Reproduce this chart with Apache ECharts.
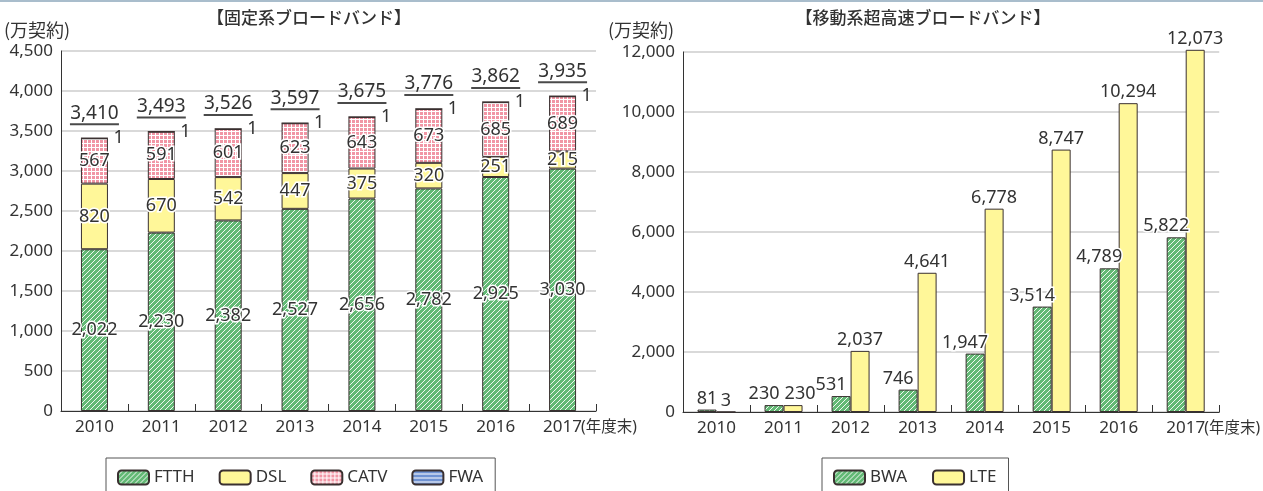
<!DOCTYPE html>
<html>
<head>
<meta charset="utf-8">
<script src="https://cdn.jsdelivr.net/npm/echarts@6/dist/echarts.min.js"></script>
<style>
  html, body { margin: 0; padding: 0; background: #fff; }
  #chart { width: 1263px; height: 491px; }
</style>
</head>
<body>
<div id="chart"></div>
<script>
// データ（万契約）
const years = ['2010', '2011', '2012', '2013', '2014', '2015', '2016', '2017'];
const ftth = [2022, 2230, 2382, 2527, 2656, 2782, 2925, 3030];
const dsl = [820, 670, 542, 447, 375, 320, 251, 215];
const catv = [567, 591, 601, 623, 643, 673, 685, 689];
const fwa = [1, 1, 1, 1, 1, 1, 1, 1];
const fixedTotal = [3410, 3493, 3526, 3597, 3675, 3776, 3862, 3935];
const bwa = [81, 230, 531, 746, 1947, 3514, 4789, 5822];
const lte = [3, 230, 2037, 4641, 6778, 8747, 10294, 12073];

const FONT = "'Noto Sans', 'Noto Sans CJK JP', sans-serif";
const TXT = '#333';

// パターン塗り
function hatchPattern() {
    const c = document.createElement('canvas');
    c.width = 5; c.height = 5;
    const g = c.getContext('2d');
    g.fillStyle = '#63b975';
    g.fillRect(0, 0, 5, 5);
    g.strokeStyle = 'rgba(255,255,255,0.9)';
    g.lineWidth = 1;
    g.beginPath();
    g.moveTo(-1, 6); g.lineTo(6, -1);
    g.moveTo(-1, 1); g.lineTo(1, -1);
    g.moveTo(4, 6); g.lineTo(6, 4);
    g.stroke();
    return c;
}
function gridPattern() {
    const c = document.createElement('canvas');
    c.width = 4; c.height = 4;
    const g = c.getContext('2d');
    g.fillStyle = '#ffffff';
    g.fillRect(0, 0, 4, 4);
    g.fillStyle = '#f196a5';
    g.fillRect(0, 0, 3, 3);
    return c;
}
function stripePattern() {
    const c = document.createElement('canvas');
    c.width = 4; c.height = 4;
    const g = c.getContext('2d');
    g.fillStyle = '#6f92d2';
    g.fillRect(0, 0, 4, 4);
    g.fillStyle = '#ffffff';
    g.fillRect(0, 3, 4, 1);
    return c;
}
const greenFill = { image: hatchPattern(), repeat: 'repeat' };
const pinkFill = { image: gridPattern(), repeat: 'repeat' };
const blueFill = { image: stripePattern(), repeat: 'repeat' };
const yellow = '#fff799';

const fmt = v => v.toLocaleString('en-US');

const insideLabel = {
    show: true,
    position: 'inside',
    fontFamily: FONT,
    fontSize: 18,
    color: TXT,
    textBorderColor: '#fff',
    textBorderWidth: 3,
    formatter: p => fmt(p.value)
};
const barBorder = { borderColor: '#3a3030', borderWidth: 1 };

function xAxisOf(gridIndex) {
    return {
        type: 'category',
        gridIndex: gridIndex,
        data: years,
        axisLine: { lineStyle: { color: '#333', width: 1 } },
        axisTick: { show: true, inside: true, length: 7, interval: 0, lineStyle: { color: '#333' } },
        axisLabel: {
            interval: 0,
            fontFamily: FONT, fontSize: 17, color: TXT, margin: 8,
            // 最後の年だけ「(年度末)」を右に付ける（年は中央のまま）
            formatter: (v, i) => i === years.length - 1 ? '{p|}{y|' + v + '}{n|(年度末)}' : v,
            rich: {
                p: { width: 54 },
                y: { fontFamily: FONT, fontSize: 17, color: TXT },
                n: { width: 54, fontFamily: FONT, fontSize: 15.5, color: TXT, align: 'left' }
            }
        }
    };
}
function yAxisOf(gridIndex, max, interval) {
    return {
        type: 'value',
        gridIndex: gridIndex,
        min: 0,
        max: max,
        interval: interval,
        axisLine: { show: true, lineStyle: { color: '#333' } },
        axisTick: { show: false },
        splitLine: { lineStyle: { color: '#cccccc', width: 1.5 } },
        axisLabel: { fontFamily: FONT, fontSize: 17, color: TXT, margin: 8, formatter: v => fmt(v) }
    };
}

const chart = echarts.init(document.getElementById('chart'));

const legendCommon = {
    orient: 'horizontal',
    itemWidth: 31, itemHeight: 14, itemGap: 24,
    padding: [11, 12, 20, 11],
    borderColor: '#555', borderWidth: 1,
    textStyle: { fontFamily: FONT, fontSize: 17, color: TXT },
    selectedMode: false
};

const option = {
    animation: false,
    backgroundColor: '#fff',
    textStyle: { fontFamily: FONT },
    grid: [
        { left: 61, right: 667, top: 51, height: 360 },
        { left: 683, right: 43, top: 52, height: 360 }
    ],
    xAxis: [xAxisOf(0), xAxisOf(1)],
    yAxis: [yAxisOf(0, 4500, 500), yAxisOf(1, 12000, 2000)],
    legend: [
        Object.assign({ data: ['FTTH', 'DSL', 'CATV', 'FWA'], left: 106, top: 458 }, legendCommon),
        Object.assign({ data: ['BWA', 'LTE'], left: 822, top: 458 }, legendCommon, { itemGap: 25 })
    ],
    graphic: [
        { type: 'rect', left: 0, top: 0, shape: { width: 1263, height: 2 }, style: { fill: '#a9bdcc' } },
        { type: 'text', x: 309, y: 18, style: { text: '【固定系ブロードバンド】', font: "500 17px 'Noto Sans CJK JP'", fill: TXT, align: 'center', verticalAlign: 'middle' } },
        { type: 'text', x: 923, y: 18, style: { text: '【移動系超高速ブロードバンド】', font: "500 17px 'Noto Sans CJK JP'", fill: TXT, align: 'center', verticalAlign: 'middle' } },
        { type: 'text', x: 4, y: 30, style: { text: '(万契約)', font: "18px 'Noto Sans CJK JP'", fill: TXT, align: 'left', verticalAlign: 'middle' } },
        { type: 'text', x: 608, y: 30, style: { text: '(万契約)', font: "18px 'Noto Sans CJK JP'", fill: TXT, align: 'left', verticalAlign: 'middle' } }
    ],
    series: [
        {
            name: 'FTTH', type: 'bar', stack: 'fixed', xAxisIndex: 0, yAxisIndex: 0,
            barWidth: 27, barGap: '-100%',
            data: ftth,
            itemStyle: Object.assign({ color: greenFill }, barBorder),
            label: insideLabel
        },
        {
            name: 'DSL', type: 'bar', stack: 'fixed', xAxisIndex: 0, yAxisIndex: 0,
            barWidth: 27, barGap: '-100%',
            data: dsl,
            itemStyle: Object.assign({ color: yellow }, barBorder),
            label: insideLabel
        },
        {
            name: 'CATV', type: 'bar', stack: 'fixed', xAxisIndex: 0, yAxisIndex: 0,
            barWidth: 27, barGap: '-100%',
            data: catv,
            itemStyle: Object.assign({ color: pinkFill }, barBorder),
            label: insideLabel
        },
        {
            name: 'FWA', type: 'bar', stack: 'fixed', xAxisIndex: 0, yAxisIndex: 0,
            barWidth: 27, barGap: '-100%',
            data: fwa,
            itemStyle: Object.assign({ color: blueFill }, barBorder),
            label: {
                show: true, position: 'right', distance: 5,
                fontFamily: FONT, fontSize: 18, color: TXT,
                formatter: p => fmt(p.value)
            }
        },
        {
            // 合計（上の下線付き数値）
            name: '合計', type: 'bar', xAxisIndex: 0, yAxisIndex: 0,
            barWidth: 27, barGap: '-100%',
            data: fixedTotal,
            z: 1,
            itemStyle: { color: 'rgba(0,0,0,0)' },
            label: {
                show: true, position: 'top', distance: 13,
                formatter: p => '{t|' + fmt(p.value) + '}\n{u|}',
                rich: {
                    t: { fontFamily: FONT, fontSize: 19, color: TXT, lineHeight: 20, align: 'center' },
                    u: { width: 49, height: 2, lineHeight: 2, backgroundColor: '#4a4a4a', align: 'center' }
                }
            },
            emphasis: { disabled: true }
        },
        {
            name: 'BWA', type: 'bar', xAxisIndex: 1, yAxisIndex: 1,
            barWidth: 19, barGap: '0%', clip: false,
            data: bwa.map((v, i) => i === 0 ? v : { value: v, label: { offset: [-10, 0] } }),
            itemStyle: Object.assign({ color: greenFill }, barBorder),
            label: {
                show: true, position: 'top', distance: 2,
                fontFamily: FONT, fontSize: 18, color: TXT,
                textBorderColor: '#fff', textBorderWidth: 3,
                formatter: p => fmt(p.value)
            }
        },
        {
            name: 'LTE', type: 'bar', xAxisIndex: 1, yAxisIndex: 1,
            barWidth: 19, barGap: '0%', clip: false,
            data: lte.map((v, i) => i === 1 ? { value: v, label: { offset: [7, 0] } } : v),
            itemStyle: Object.assign({ color: yellow }, barBorder),
            label: {
                show: true, position: 'top', distance: 2,
                fontFamily: FONT, fontSize: 18, color: TXT,
                textBorderColor: '#fff', textBorderWidth: 3,
                formatter: p => fmt(p.value)
            }
        }
    ]
};

chart.setOption(option);

window.addEventListener('resize', function() {
    chart.resize();
});
</script>
</body>
</html>
